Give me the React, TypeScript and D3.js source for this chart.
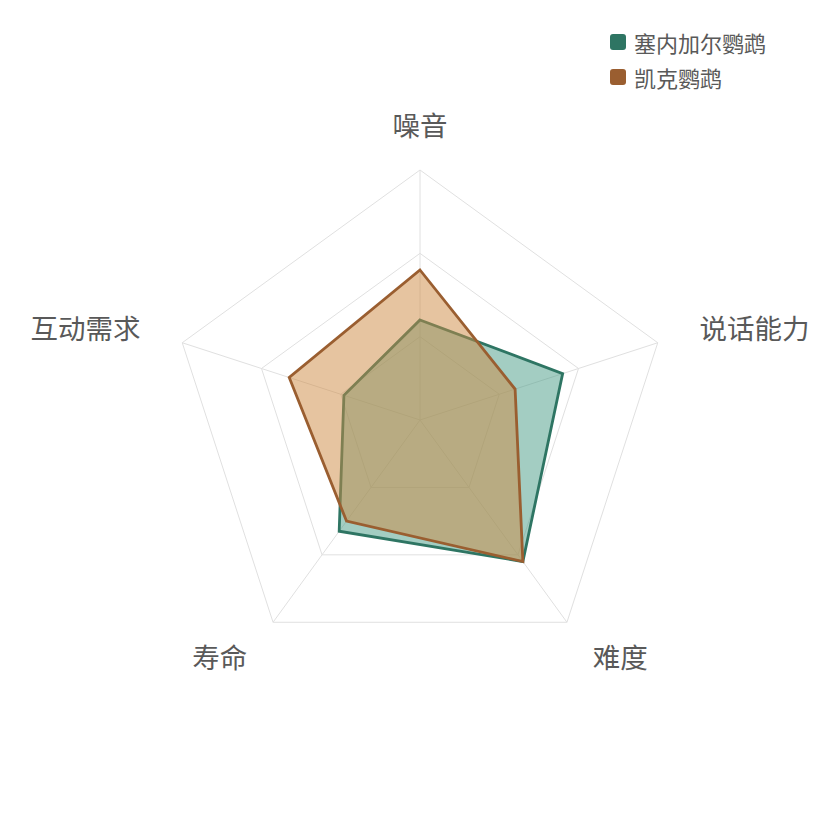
import { useEffect, useRef } from 'react';
import * as d3 from 'd3';

const axes = ['噪音', '说话能力', '难度', '寿命', '互动需求'];
const axisMax = [10, 10, 10, 10, 10];
const seriesNames = ['塞内加尔鹦鹉', '凯克鹦鹉'];
const senegalValues = [4, 6, 7, 5.5, 3.2];
const kakaValues = [6, 4, 7, 5, 5.5];

const STROKES = ['#2e7563', '#9a5e30'];
const FILLS = ['#479b85', '#cd8941'];

const W = 840;
const H = 840;
const CX = 420;
const CY = 420;
const R = 250;
const RINGS = 3;
const NAME_GAP = 44;

export default function App() {
  const svgRef = useRef<SVGSVGElement>(null);

  useEffect(() => {
    if (!svgRef.current) return;
    const svg = d3.select(svgRef.current);
    svg.selectAll('*').remove();

    const n = axes.length;
    const angle = d3.scaleLinear().domain([0, n]).range([0, 2 * Math.PI]);
    const radius = d3.scaleLinear().domain([0, 1]).range([0, R]);

    const g = svg.append('g').attr('transform', `translate(${CX},${CY})`);

    // grid rings
    const ringLine = d3.lineRadial<number>()
      .angle((_, i) => angle(i))
      .radius((d) => d)
      .curve(d3.curveLinearClosed);

    d3.range(1, RINGS + 1).forEach((k) => {
      g.append('path')
        .attr('d', ringLine(axes.map(() => radius(k / RINGS))) ?? '')
        .attr('fill', 'none')
        .attr('stroke', '#e0e0e0')
        .attr('stroke-width', 1);
    });

    // spokes
    axes.forEach((_, i) => {
      const a = angle(i);
      g.append('line')
        .attr('x1', 0)
        .attr('y1', 0)
        .attr('x2', radius(1) * Math.sin(a))
        .attr('y2', -radius(1) * Math.cos(a))
        .attr('stroke', '#e0e0e0')
        .attr('stroke-width', 1);
    });

    // series
    const dataLine = d3.lineRadial<number>()
      .angle((_, i) => angle(i))
      .radius((d, i) => radius(d / axisMax[i]))
      .curve(d3.curveLinearClosed);

    [senegalValues, kakaValues].forEach((vals, si) => {
      g.append('path')
        .attr('d', dataLine(vals) ?? '')
        .attr('fill', FILLS[si])
        .attr('fill-opacity', 0.5)
        .attr('stroke', STROKES[si])
        .attr('stroke-width', 2.8)
        .attr('stroke-linejoin', 'miter');
    });

    // axis names
    axes.forEach((name, i) => {
      const a = angle(i);
      const x = (R + NAME_GAP) * Math.sin(a);
      const y = -(R + NAME_GAP) * Math.cos(a);
      const anchor = x > 1 ? 'start' : x < -1 ? 'end' : 'middle';
      g.append('text')
        .attr('x', x)
        .attr('y', y - 2)
        .attr('text-anchor', anchor)
        .attr('dominant-baseline', 'central')
        .attr('font-size', 27.5)
        .attr('fill', '#595959')
        .text(name);
    });

    // legend
    const legend = svg.append('g').attr('transform', 'translate(610,0)');
    seriesNames.forEach((name, i) => {
      const y = 42 + i * 35;
      legend.append('rect')
        .attr('x', 0)
        .attr('y', y - 8)
        .attr('width', 16)
        .attr('height', 16)
        .attr('rx', 3)
        .attr('fill', STROKES[i]);
      legend.append('text')
        .attr('x', 24)
        .attr('y', y)
        .attr('dominant-baseline', 'central')
        .attr('font-size', 22)
        .attr('fill', '#595959')
        .text(name);
    });
  }, []);

  return (
    <svg
      ref={svgRef}
      width={W}
      height={H}
      viewBox={`0 0 ${W} ${H}`}
      style={{
        position: 'absolute',
        left: 0,
        top: 0,
        background: '#fff',
        fontFamily: '"Noto Sans CJK SC", "Noto Sans", sans-serif',
      }}
    />
  );
}
